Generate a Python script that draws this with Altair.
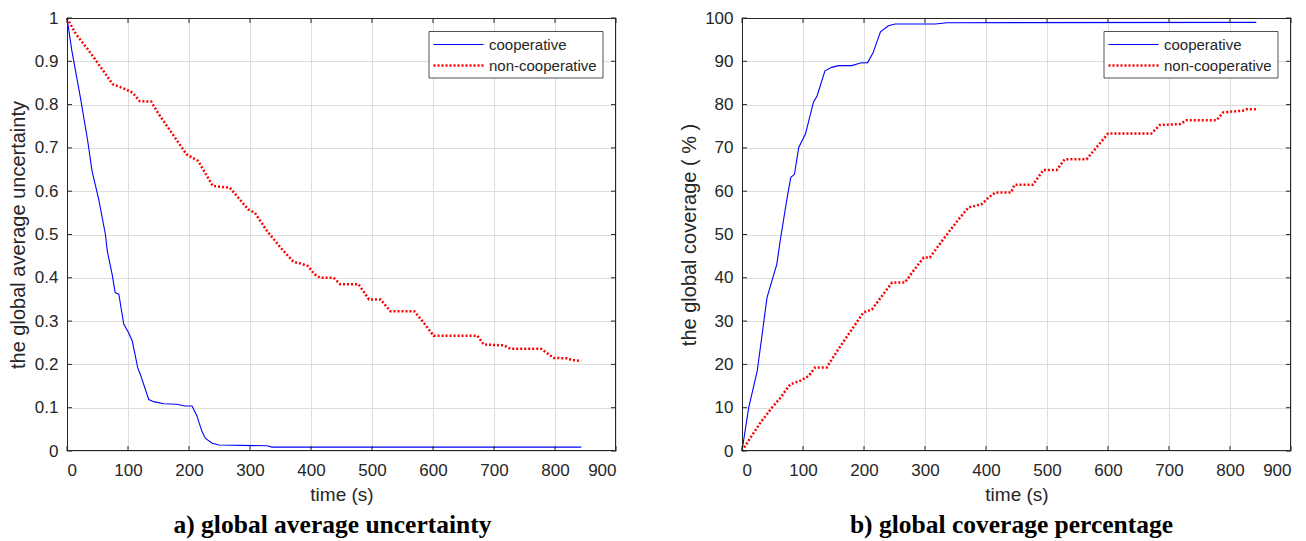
import altair as alt
import pandas as pd

# ---------------- data ----------------
time_ticks = [0, 100, 200, 300, 400, 500, 600, 700, 800, 900]
unc_ticks = [0, 0.1, 0.2, 0.3, 0.4, 0.5, 0.6, 0.7, 0.8, 0.9, 1.0]
cov_ticks = [0, 10, 20, 30, 40, 50, 60, 70, 80, 90, 100]

series_names = ["cooperative", "non-cooperative"]
panel_titles = ["a) global average uncertainty", "b) global coverage percentage"]
y_titles = ["the global average uncertainty", "the global coverage ( % )"]
x_title = "time (s)"

# a) global average uncertainty
unc_coop_t = [0, 8, 22, 34, 41, 52, 63, 66, 74, 79, 85, 93, 101, 107, 116, 120, 134, 142,
              159, 180, 194, 205, 213, 221, 227, 238, 249, 328, 336, 843]
unc_coop_v = [1.0, 0.924, 0.816, 0.716, 0.647, 0.581, 0.50, 0.462, 0.408, 0.366, 0.362, 0.293,
              0.273, 0.254, 0.192, 0.178, 0.119, 0.114, 0.109, 0.108, 0.104, 0.104, 0.081,
              0.046, 0.029, 0.018, 0.014, 0.012, 0.009, 0.009]

unc_non_t = [0, 15, 34, 48, 75, 97, 108, 119, 138, 149, 196, 215, 239, 267, 297, 308, 328,
             350, 371, 383, 395, 406, 415, 437, 448, 478, 495, 514, 530, 569, 585, 601,
             673, 683, 716, 727, 777, 798, 820, 828, 843]
unc_non_v = [1.0, 0.962, 0.928, 0.901, 0.847, 0.835, 0.827, 0.808, 0.807, 0.781, 0.685, 0.670,
             0.612, 0.608, 0.558, 0.550, 0.508, 0.470, 0.437, 0.433, 0.427, 0.408, 0.400,
             0.400, 0.385, 0.385, 0.350, 0.350, 0.323, 0.323, 0.296, 0.266, 0.266, 0.246,
             0.244, 0.236, 0.236, 0.215, 0.214, 0.210, 0.208]

# b) global coverage percentage
cov_coop_t = [0, 11, 25, 41, 57, 63, 74, 80, 86, 93, 104, 117, 123, 136, 147, 158, 180, 194,
              206, 215, 227, 240, 251, 317, 336, 843]
cov_coop_v = [0, 10.0, 18.5, 35.4, 43.1, 48.9, 58.5, 63.2, 63.9, 70.1, 73.2, 80.5, 82.0, 87.8,
              88.6, 89.0, 89.0, 89.6, 89.7, 92.0, 96.8, 98.2, 98.6, 98.6, 98.9, 99.0]

cov_non_t = [0, 14, 30, 49, 63, 79, 95, 109, 120, 139, 156, 199, 213, 246, 267, 281, 298, 308,
             330, 355, 371, 393, 404, 415, 441, 447, 477, 494, 516, 529, 565, 581, 600, 671,
             685, 718, 729, 778, 789, 821, 827, 843]
cov_non_v = [0, 3.1, 6.5, 10.0, 12.3, 15.4, 16.2, 17.3, 19.3, 19.3, 23.1, 32.0, 32.7, 38.9,
             38.9, 41.6, 44.7, 44.7, 48.9, 53.5, 56.2, 57.0, 58.5, 59.7, 59.7, 61.5, 61.5,
             64.9, 64.9, 67.4, 67.4, 70.1, 73.3, 73.3, 75.3, 75.5, 76.4, 76.4, 78.2, 78.6,
             78.9, 78.9]

# ---------------- style ----------------
W, H = 549, 433
BLUE = "#0000ff"
RED = "#ff0000"
INK = "#262626"
GRID = "#dedede"
SANS = "Liberation Sans"
SERIF = "Liberation Serif"
TICK = 5


def one(**kw):
    return pd.DataFrame({"k": [0], **{k: [v] for k, v in kw.items()}})


def panel(coop_t, coop_v, non_t, non_v, ymax, yticks, yfmt, ytitle, ytitle_x, title, title_dx):
    xs = alt.Scale(domain=[0, 900], nice=False, zero=False)
    ys = alt.Scale(domain=[0, ymax], nice=False, zero=False)
    xa = alt.Axis(values=time_ticks, title=x_title, grid=True, ticks=False, domain=False,
                  labelPadding=11, format="d", titleBaseline="alphabetic", titleY=49,
                  titleFontSize=19)
    ya = alt.Axis(values=yticks, title=ytitle, grid=True, ticks=False, domain=False,
                  labelPadding=9, format=yfmt, titleX=ytitle_x, titleBaseline="alphabetic",
                  titleFontSize=20)
    X = alt.X("t:Q", scale=xs, axis=xa)
    Y = alt.Y("v:Q", scale=ys, axis=ya)

    coop = pd.DataFrame({"t": coop_t, "v": coop_v})
    non = pd.DataFrame({"t": non_t, "v": non_v})
    line_c = alt.Chart(coop).mark_line(color=BLUE, strokeWidth=1.1).encode(x=X, y=Y)
    line_n = alt.Chart(non).mark_line(color=RED, strokeWidth=2.5, strokeDash=[2, 2]).encode(x=X, y=Y)

    xt = pd.DataFrame({"t": time_ticks})
    yt = pd.DataFrame({"v": yticks})
    tick_b = alt.Chart(xt).mark_rule(color=INK, strokeWidth=1).encode(
        x=X, y=alt.value(H), y2=alt.value(H - TICK))
    tick_t = alt.Chart(xt).mark_rule(color=INK, strokeWidth=1).encode(
        x=X, y=alt.value(0), y2=alt.value(TICK))
    tick_l = alt.Chart(yt).mark_rule(color=INK, strokeWidth=1).encode(
        y=Y, x=alt.value(0), x2=alt.value(TICK))
    tick_r = alt.Chart(yt).mark_rule(color=INK, strokeWidth=1).encode(
        y=Y, x=alt.value(W), x2=alt.value(W - TICK))

    frame = alt.Chart(one()).mark_rect(fillOpacity=0, stroke=INK, strokeWidth=1).encode(
        x=alt.value(0.5), x2=alt.value(W - 0.5), y=alt.value(0.5), y2=alt.value(H - 0.5))

    # legend box (top-right, inside the plot)
    lx0, lx1, ly0, ly1 = 362, 536, 13.5, 60
    box = alt.Chart(one()).mark_rect(fill="white", stroke=INK, strokeWidth=0.8).encode(
        x=alt.value(lx0), x2=alt.value(lx1), y=alt.value(ly0), y2=alt.value(ly1))
    rows_y = [26.5, 47.5]
    samp_c = alt.Chart(one()).mark_rule(color=BLUE, strokeWidth=1.1).encode(
        x=alt.value(366.5), x2=alt.value(416.5), y=alt.value(rows_y[0]))
    samp_n = alt.Chart(one()).mark_rule(color=RED, strokeWidth=2.5, strokeDash=[2, 2]).encode(
        x=alt.value(366.5), x2=alt.value(416.5), y=alt.value(rows_y[1]))
    lab = []
    for name, yy in zip(series_names, rows_y):
        lab.append(alt.Chart(one(label=name)).mark_text(
            align="left", baseline="middle", font=SANS, fontSize=15, color=INK).encode(
            x=alt.value(422), y=alt.value(yy + 0.5), text="label:N"))

    return alt.layer(line_c, line_n, tick_b, tick_t, tick_l, tick_r, frame, box,
                     samp_c, samp_n, *lab).properties(
        width=W, height=H,
        title=alt.TitleParams(text=title, orient="bottom", anchor="middle", frame="group",
                              dx=title_dx, offset=29, baseline="alphabetic", font=SERIF,
                              fontSize=25.5, fontWeight="bold", color="black"))


p1 = panel(unc_coop_t, unc_coop_v, unc_non_t, unc_non_v, 1.0, unc_ticks, "~g",
           y_titles[0], -43, panel_titles[0], -9)
p2 = panel(cov_coop_t, cov_coop_v, cov_non_t, cov_non_v, 100, cov_ticks, "d",
           y_titles[1], -47, panel_titles[1], -5)

chart = alt.hconcat(p1, p2, spacing=126, bounds="flush").configure(
    padding={"left": 0, "top": 1, "right": 0, "bottom": 0}
).configure_view(stroke=None).configure_axis(
    labelFont=SANS, labelFontSize=17, labelColor=INK,
    titleFont=SANS, titleFontWeight="normal", titleColor=INK,
    gridColor=GRID, gridWidth=1
)

chart.save("out.html", embed_options={"renderer": "svg", "actions": False})
